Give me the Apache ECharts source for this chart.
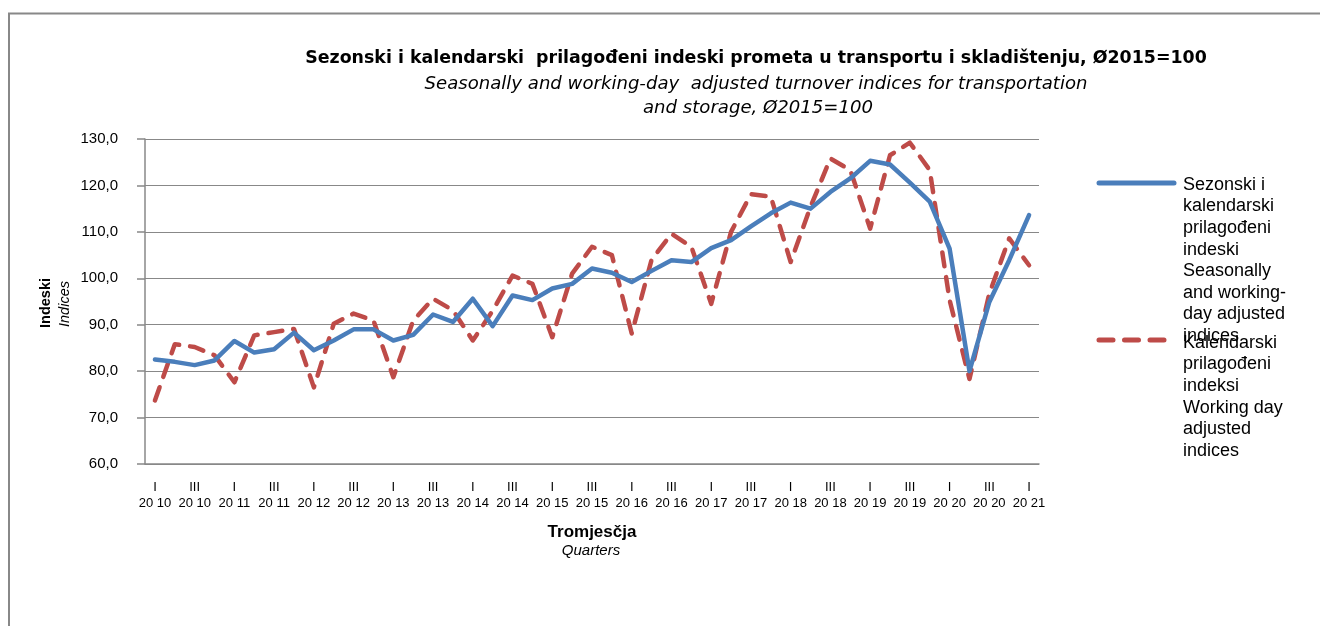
<!DOCTYPE html>
<html>
<head>
<meta charset="utf-8">
<script src="https://cdn.jsdelivr.net/npm/echarts@6/dist/echarts.min.js"></script>
<style>html,body{margin:0;padding:0;background:#fff;}#c{width:1320px;height:626px;}</style>
</head>
<body>
<div id="c"></div>
<script>
// ---- data ----
const quarterLabels = ['I', 'II', 'III', 'IV'];
const yearLabels = ['20 10','20 11','20 12','20 13','20 14','20 15','20 16','20 17','20 18','20 19','20 20','20 21'];
const seriesNames = [
  'Sezonski i kalendarski prilagođeni indeski Seasonally and working-day adjusted indices',
  'Kalendarski prilagođeni indeksi Working day adjusted indices'
];
// Seasonally and working-day adjusted indices, 2010 Q1 .. 2021 Q1
const seasonallyAdjusted = [82.5, 82.0, 81.3, 82.3, 86.5, 84.0, 84.7, 88.3, 84.5, 86.6, 89.0, 89.0,
  86.6, 87.8, 92.2, 90.6, 95.6, 89.7, 96.3, 95.3, 97.8, 98.8, 102.1, 101.2, 99.2, 101.6, 103.9, 103.5,
  106.5, 108.2, 111.2, 114.0, 116.3, 115.0, 118.6, 121.5, 125.3, 124.5, 120.6, 116.5, 106.4, 80.0,
  94.9, 103.9, 113.6];
// Working day adjusted indices
const workingDayAdjusted = [73.7, 85.8, 85.2, 83.4, 77.6, 87.7, 88.4, 89.1, 76.5, 90.2, 92.4, 90.9,
  78.7, 90.9, 95.6, 93.1, 86.6, 93.0, 100.6, 98.8, 87.3, 101.0, 106.8, 105.0, 88.1, 104.0, 109.6, 106.8,
  94.5, 110.0, 118.1, 117.6, 103.5, 115.4, 125.8, 123.3, 110.7, 126.5, 129.2, 123.3, 95.3, 78.3,
  96.7, 108.6, 102.8];
const yTicks = [60, 70, 80, 90, 100, 110, 120, 130];

// categories built from the label arrays (2010 Q1 .. 2021 Q1)
const categories = [];
for (let y = 0; y < yearLabels.length; y++) {
  for (let q = 0; q < 4; q++) {
    if (categories.length < seasonallyAdjusted.length) categories.push(quarterLabels[q] + '\n' + yearLabels[y]);
  }
}

const BLUE = '#4A7EBB', RED = '#BE4B48', GRAY = '#888888';
const chart = echarts.init(document.getElementById('c'), null, {renderer: 'canvas'});

function txt(x, y, text, font, extra) {
  return {
    type: 'text', x: x, y: y, silent: true,
    style: Object.assign({text: text, x: 0, y: 0, font: font, fill: '#000',
      textAlign: 'center', textVerticalAlign: 'middle', align: 'center', verticalAlign: 'middle'}, extra || {})
  };
}

const legendFont = '18px "Liberation Sans", Arial, sans-serif';
const option = {
  animation: false,
  backgroundColor: '#fff',
  grid: {left: 145, right: 281, top: 139, bottom: 162, containLabel: false},
  xAxis: {
    type: 'category', data: categories, boundaryGap: true,
    axisLine: {show: true, lineStyle: {color: GRAY, width: 1.5}},
    axisTick: {show: false},
    axisLabel: {interval: 1, color: '#000', fontSize: 13, lineHeight: 16, margin: 15,
      fontFamily: '"Liberation Sans", Arial, sans-serif'},
    splitLine: {show: false}
  },
  yAxis: {
    type: 'value', min: yTicks[0], max: yTicks[yTicks.length - 1], interval: 10,
    axisLine: {show: true, lineStyle: {color: GRAY, width: 1.5}},
    axisTick: {show: true, length: 8, lineStyle: {color: GRAY, width: 1.5}},
    splitLine: {show: true, lineStyle: {color: GRAY, width: 1.2}},
    axisLabel: {color: '#000', fontSize: 15, margin: 27,
      fontFamily: '"Liberation Sans", Arial, sans-serif',
      formatter: v => v.toFixed(1).replace('.', ',')}
  },
  series: [
    {name: seriesNames[0], type: 'line', data: seasonallyAdjusted, showSymbol: false, symbol: 'none',
      lineStyle: {color: BLUE, width: 4.5, cap: 'round', join: 'round'}, z: 3},
    {name: seriesNames[1], type: 'line', data: workingDayAdjusted, showSymbol: false, symbol: 'none',
      lineStyle: {color: RED, width: 4.5, type: [14, 11], cap: 'round', join: 'round'}, z: 2}
  ],
  graphic: [
    {type: 'rect', silent: true, shape: {x: 9, y: 13.5, width: 1400, height: 700},
      style: {fill: 'none', stroke: GRAY, lineWidth: 2}},
    txt(756, 58, 'Sezonski i kalendarski  prilagođeni indeski prometa u transportu i skladištenju, Ø2015=100',
      'bold 17.4px "DejaVu Sans", sans-serif'),
    txt(756, 84, 'Seasonally and working-day  adjusted turnover indices for transportation',
      'italic 18.1px "DejaVu Sans", sans-serif'),
    txt(758, 108, 'and storage, Ø2015=100', 'italic 18.1px "DejaVu Sans", sans-serif'),
    Object.assign(txt(46, 303, 'Indeski', 'bold 14.5px "Liberation Sans", Arial, sans-serif'), {rotation: Math.PI / 2}),
    Object.assign(txt(65, 304, 'Indices', 'italic 14.5px "Liberation Sans", Arial, sans-serif'), {rotation: Math.PI / 2}),
    txt(592, 532, 'Tromjesčja', 'bold 17px "Liberation Sans", Arial, sans-serif'),
    txt(591, 551, 'Quarters', 'italic 15px "Liberation Sans", Arial, sans-serif'),
    // legend
    {type: 'line', silent: true, shape: {x1: 1099, y1: 183, x2: 1174, y2: 183},
      style: {stroke: BLUE, lineWidth: 5, lineCap: 'round'}},
    {type: 'line', silent: true, shape: {x1: 1099, y1: 340, x2: 1174, y2: 340},
      style: {stroke: RED, lineWidth: 5, lineCap: 'round', lineDash: [14, 11.5]}},
    {type: 'text', silent: true, x: 1183, y: 174,
      style: {text: 'Sezonski i\nkalendarski\nprilagođeni\nindeski\nSeasonally\nand working-\nday adjusted\nindices',
        font: legendFont, lineHeight: 21.6, fill: '#000', textAlign: 'left', align: 'left', textVerticalAlign: 'top', verticalAlign: 'top'}},
    {type: 'text', silent: true, x: 1183, y: 332,
      style: {text: 'Kalendarski\nprilagođeni\nindeksi\nWorking day\nadjusted\nindices',
        font: legendFont, lineHeight: 21.6, fill: '#000', textAlign: 'left', align: 'left', textVerticalAlign: 'top', verticalAlign: 'top'}}
  ]
};
chart.setOption(option);
</script>
</body>
</html>
